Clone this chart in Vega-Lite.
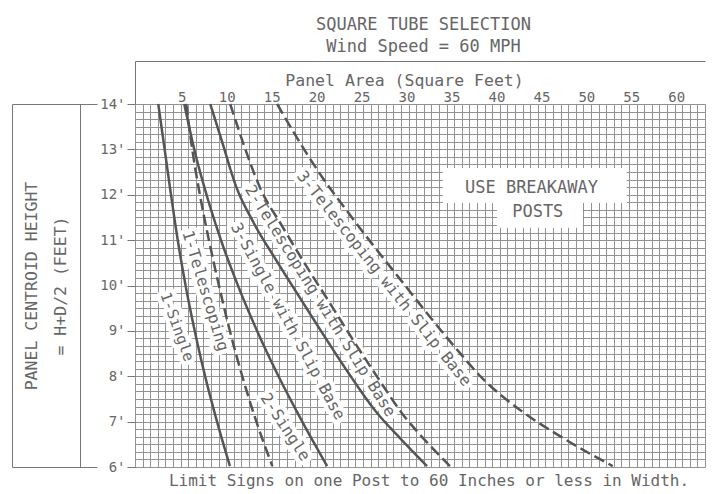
{
  "$schema": "https://vega.github.io/schema/vega-lite/v6.json",
  "width": 570,
  "height": 363,
  "autosize": {"type": "none"},
  "padding": {"left": 135, "top": 104, "right": 20, "bottom": 27},
  "background": "white",
  "config": {
    "view": {"stroke": null},
    "axis": {"labelFont": "DejaVu Sans Mono", "titleFont": "DejaVu Sans Mono", "labelColor": "#666", "titleColor": "#666", "titleFontWeight": "normal", "gridColor": "#929292", "gridOpacity": 1, "gridWidth": 1, "domainColor": "#777", "tickColor": "#777"},
    "text": {"font": "DejaVu Sans Mono"}
  },
  "datasets": {
    "curves": [
      {"series": "1-Single", "line": "solid", "x": 2.39, "y": 14},
      {"series": "1-Single", "line": "solid", "x": 3.09, "y": 13.01},
      {"series": "1-Single", "line": "solid", "x": 3.79, "y": 12.02},
      {"series": "1-Single", "line": "solid", "x": 4.54, "y": 11.02},
      {"series": "1-Single", "line": "solid", "x": 5.4, "y": 10.03},
      {"series": "1-Single", "line": "solid", "x": 6.4, "y": 9.04},
      {"series": "1-Single", "line": "solid", "x": 7.54, "y": 8.05},
      {"series": "1-Single", "line": "solid", "x": 8.84, "y": 7.06},
      {"series": "1-Single", "line": "solid", "x": 10.36, "y": 6.02},
      {"series": "1-Telescoping", "line": "dashed", "x": 5.5, "y": 14},
      {"series": "1-Telescoping", "line": "dashed", "x": 6.16, "y": 13.01},
      {"series": "1-Telescoping", "line": "dashed", "x": 7.0, "y": 12.02},
      {"series": "1-Telescoping", "line": "dashed", "x": 8.0, "y": 11.02},
      {"series": "1-Telescoping", "line": "dashed", "x": 9.1, "y": 10.03},
      {"series": "1-Telescoping", "line": "dashed", "x": 10.3, "y": 9.04},
      {"series": "1-Telescoping", "line": "dashed", "x": 11.66, "y": 8.05},
      {"series": "1-Telescoping", "line": "dashed", "x": 13.2, "y": 7.06},
      {"series": "1-Telescoping", "line": "dashed", "x": 15.08, "y": 6.02},
      {"series": "2-Single", "line": "solid", "x": 5.28, "y": 14},
      {"series": "2-Single", "line": "solid", "x": 6.38, "y": 13.01},
      {"series": "2-Single", "line": "solid", "x": 7.73, "y": 12.02},
      {"series": "2-Single", "line": "solid", "x": 9.33, "y": 11.02},
      {"series": "2-Single", "line": "solid", "x": 11.19, "y": 10.03},
      {"series": "2-Single", "line": "solid", "x": 13.29, "y": 9.04},
      {"series": "2-Single", "line": "solid", "x": 15.64, "y": 8.05},
      {"series": "2-Single", "line": "solid", "x": 18.24, "y": 7.06},
      {"series": "2-Single", "line": "solid", "x": 21.17, "y": 6.02},
      {"series": "3-Single with Slip Base", "line": "solid", "x": 8.17, "y": 14},
      {"series": "3-Single with Slip Base", "line": "solid", "x": 9.5, "y": 13.16},
      {"series": "3-Single with Slip Base", "line": "solid", "x": 11.0, "y": 12.21},
      {"series": "3-Single with Slip Base", "line": "solid", "x": 12.95, "y": 11.4},
      {"series": "3-Single with Slip Base", "line": "solid", "x": 15.5, "y": 10.56},
      {"series": "3-Single with Slip Base", "line": "solid", "x": 18.17, "y": 9.72},
      {"series": "3-Single with Slip Base", "line": "solid", "x": 20.84, "y": 8.89},
      {"series": "3-Single with Slip Base", "line": "solid", "x": 23.62, "y": 8.05},
      {"series": "3-Single with Slip Base", "line": "solid", "x": 26.45, "y": 7.26},
      {"series": "3-Single with Slip Base", "line": "solid", "x": 29.45, "y": 6.6},
      {"series": "3-Single with Slip Base", "line": "solid", "x": 32.28, "y": 6.02},
      {"series": "2-Telescoping with Slip Base", "line": "dashed", "x": 10.39, "y": 14},
      {"series": "2-Telescoping with Slip Base", "line": "dashed", "x": 11.9, "y": 13.1},
      {"series": "2-Telescoping with Slip Base", "line": "dashed", "x": 13.72, "y": 12.15},
      {"series": "2-Telescoping with Slip Base", "line": "dashed", "x": 16.16, "y": 11.31},
      {"series": "2-Telescoping with Slip Base", "line": "dashed", "x": 18.72, "y": 10.47},
      {"series": "2-Telescoping with Slip Base", "line": "dashed", "x": 21.39, "y": 9.64},
      {"series": "2-Telescoping with Slip Base", "line": "dashed", "x": 24.05, "y": 8.8},
      {"series": "2-Telescoping with Slip Base", "line": "dashed", "x": 26.83, "y": 7.96},
      {"series": "2-Telescoping with Slip Base", "line": "dashed", "x": 29.55, "y": 7.17},
      {"series": "2-Telescoping with Slip Base", "line": "dashed", "x": 32.25, "y": 6.55},
      {"series": "2-Telescoping with Slip Base", "line": "dashed", "x": 34.83, "y": 6.02},
      {"series": "3-Telescoping with Slip Base", "line": "dashed", "x": 15.61, "y": 14},
      {"series": "3-Telescoping with Slip Base", "line": "dashed", "x": 18.17, "y": 13.14},
      {"series": "3-Telescoping with Slip Base", "line": "dashed", "x": 20.61, "y": 12.39},
      {"series": "3-Telescoping with Slip Base", "line": "dashed", "x": 23.39, "y": 11.64},
      {"series": "3-Telescoping with Slip Base", "line": "dashed", "x": 26.28, "y": 10.89},
      {"series": "3-Telescoping with Slip Base", "line": "dashed", "x": 29.28, "y": 10.14},
      {"series": "3-Telescoping with Slip Base", "line": "dashed", "x": 32.28, "y": 9.39},
      {"series": "3-Telescoping with Slip Base", "line": "dashed", "x": 35.39, "y": 8.64},
      {"series": "3-Telescoping with Slip Base", "line": "dashed", "x": 38.61, "y": 7.92},
      {"series": "3-Telescoping with Slip Base", "line": "dashed", "x": 42.61, "y": 7.26},
      {"series": "3-Telescoping with Slip Base", "line": "dashed", "x": 47.39, "y": 6.64},
      {"series": "3-Telescoping with Slip Base", "line": "dashed", "x": 52.94, "y": 6.02}
    ],
    "labels": [
      {"label": "1-Single", "x": 4.5, "y": 9.09},
      {"label": "1-Telescoping", "x": 7.61, "y": 9.88},
      {"label": "2-Single", "x": 16.5, "y": 6.88},
      {"label": "3-Single with Slip Base", "x": 16.8, "y": 9.21},
      {"label": "2-Telescoping with Slip Base", "x": 20.39, "y": 9.66},
      {"label": "3-Telescoping with Slip Base", "x": 27.5, "y": 10.15}
    ],
    "notes": [
      {"label": "USE BREAKAWAY", "x": 43.9, "y": 12.15},
      {"label": "POSTS", "x": 44.6, "y": 11.62}
    ],
    "boxes": [
      {"x": 34.06, "x2": 54.5, "y": 12.59, "y2": 11.82},
      {"x": 40.06, "x2": 49.6, "y": 11.84, "y2": 11.27}
    ]
  },
  "resolve": {"axis": {"x": "independent", "y": "independent"}},
  "layer": [
    {
      "data": {"name": "curves"},
      "mark": {"type": "point", "opacity": 0},
      "encoding": {
        "x": {"field": "x", "type": "quantitative", "scale": {"domain": [-0.2, 63.2], "nice": false, "zero": false},
          "axis": {"orient": "bottom", "grid": true, "labels": false, "ticks": false, "domain": false,
            "values": [-0.2, 0.645, 1.491, 2.336, 3.181, 4.027, 4.872, 5.717, 6.562, 7.408, 8.253, 9.099, 9.944, 10.789, 11.634, 12.48, 13.325, 14.171, 15.016, 15.861, 16.706, 17.552, 18.397, 19.242, 20.088, 20.933, 21.778, 22.624, 23.469, 24.314, 25.16, 26.005, 26.85, 27.696, 28.541, 29.386, 30.232, 31.077, 31.922, 32.768, 33.613, 34.458, 35.304, 36.149, 36.994, 37.84, 38.685, 39.53, 40.376, 41.221, 42.066, 42.912, 43.757, 44.602, 45.448, 46.293, 47.138, 47.984, 48.829, 49.674, 50.52, 51.365, 52.21, 53.056, 53.901, 54.746, 55.592, 56.437, 57.282, 58.128, 58.973, 59.818, 60.664, 61.509, 62.354, 63.2],
            "title": "Limit Signs on one Post to 60 Inches or less in Width.", "titleFontSize": 16, "titleX": 293.5, "titleY": 13, "titleBaseline": "middle", "titleAlign": "center"}},
        "y": {"field": "y", "type": "quantitative", "scale": {"domain": [6, 14], "nice": false, "zero": false},
          "axis": {"orient": "left", "grid": true, "labels": false, "ticks": false, "domain": false, "title": null,
            "values": [6, 6.1667, 6.3333, 6.5, 6.6667, 6.8333, 7, 7.1667, 7.3333, 7.5, 7.6667, 7.8333, 8, 8.1667, 8.3333, 8.5, 8.6667, 8.8333, 9, 9.1667, 9.3333, 9.5, 9.6667, 9.8333, 10, 10.1667, 10.3333, 10.5, 10.6667, 10.8333, 11, 11.1667, 11.3333, 11.5, 11.6667, 11.8333, 12, 12.1667, 12.3333, 12.5, 12.6667, 12.8333, 13, 13.1667, 13.3333, 13.5, 13.6667, 13.8333, 14]}}
      }
    },
    {
      "data": {"name": "boxes"},
      "mark": {"type": "rect", "fill": "white"},
      "encoding": {
        "x": {"field": "x", "type": "quantitative", "axis": null},
        "x2": {"field": "x2"},
        "y": {"field": "y", "type": "quantitative", "axis": null},
        "y2": {"field": "y2"}
      }
    },
    {
      "data": {"name": "labels"},
      "transform": [{"filter": "datum.label == '1-Single'"}],
      "mark": {"type": "text", "angle": 70, "fontSize": 15, "align": "center", "baseline": "middle", "fill": "white", "stroke": "white", "strokeWidth": 9, "strokeJoin": "round"},
      "encoding": {"x": {"field": "x", "type": "quantitative", "axis": null}, "y": {"field": "y", "type": "quantitative", "axis": null}, "text": {"field": "label"}}
    },
    {
      "data": {"name": "labels"},
      "transform": [{"filter": "datum.label == '1-Telescoping'"}],
      "mark": {"type": "text", "angle": 73, "fontSize": 16, "align": "center", "baseline": "middle", "fill": "white", "stroke": "white", "strokeWidth": 9, "strokeJoin": "round"},
      "encoding": {"x": {"field": "x", "type": "quantitative", "axis": null}, "y": {"field": "y", "type": "quantitative", "axis": null}, "text": {"field": "label"}}
    },
    {
      "data": {"name": "labels"},
      "transform": [{"filter": "datum.label == '2-Single'"}],
      "mark": {"type": "text", "angle": 57, "fontSize": 16, "align": "center", "baseline": "middle", "fill": "white", "stroke": "white", "strokeWidth": 9, "strokeJoin": "round"},
      "encoding": {"x": {"field": "x", "type": "quantitative", "axis": null}, "y": {"field": "y", "type": "quantitative", "axis": null}, "text": {"field": "label"}}
    },
    {
      "data": {"name": "labels"},
      "transform": [{"filter": "datum.label == '3-Single with Slip Base'"}],
      "mark": {"type": "text", "angle": 61.5, "fontSize": 16, "align": "center", "baseline": "middle", "fill": "white", "stroke": "white", "strokeWidth": 9, "strokeJoin": "round"},
      "encoding": {"x": {"field": "x", "type": "quantitative", "axis": null}, "y": {"field": "y", "type": "quantitative", "axis": null}, "text": {"field": "label"}}
    },
    {
      "data": {"name": "labels"},
      "transform": [{"filter": "datum.label == '2-Telescoping with Slip Base'"}],
      "mark": {"type": "text", "angle": 58, "fontSize": 16, "align": "center", "baseline": "middle", "fill": "white", "stroke": "white", "strokeWidth": 9, "strokeJoin": "round"},
      "encoding": {"x": {"field": "x", "type": "quantitative", "axis": null}, "y": {"field": "y", "type": "quantitative", "axis": null}, "text": {"field": "label"}}
    },
    {
      "data": {"name": "labels"},
      "transform": [{"filter": "datum.label == '3-Telescoping with Slip Base'"}],
      "mark": {"type": "text", "angle": 51.5, "fontSize": 16, "align": "center", "baseline": "middle", "fill": "white", "stroke": "white", "strokeWidth": 9, "strokeJoin": "round"},
      "encoding": {"x": {"field": "x", "type": "quantitative", "axis": null}, "y": {"field": "y", "type": "quantitative", "axis": null}, "text": {"field": "label"}}
    },
    {
      "data": {"name": "curves"},
      "mark": {"type": "line", "interpolate": "monotone", "stroke": "#555", "strokeWidth": 2.5},
      "encoding": {
        "x": {"field": "x", "type": "quantitative", "scale": {"domain": [-0.2, 63.2], "nice": false, "zero": false},
          "axis": {"orient": "top", "values": [5, 10, 15, 20, 25, 30, 35, 40, 45, 50, 55, 60], "grid": false, "ticks": false, "tickSize": 0, "domain": false, "labelPadding": 0, "labelFontSize": 14, "labelFlush": false, "labelOverlap": false,
            "title": "Panel Area (Square Feet)", "titleFontSize": 16.5, "titleX": 269, "titleY": -24, "titleBaseline": "middle", "titleAlign": "center"}},
        "y": {"field": "y", "type": "quantitative", "scale": {"domain": [6, 14], "nice": false, "zero": false},
          "axis": {"orient": "left", "values": [6, 7, 8, 9, 10, 11, 12, 13, 14], "labelExpr": "datum.value + \"'\"", "grid": false, "domain": false, "tickSize": 8, "labelPadding": 2, "labelFontSize": 14, "labelBaseline": "middle",
            "title": ["PANEL CENTROID HEIGHT", "= H+D/2 (FEET)"], "titleX": -104, "titleY": 181.5, "titleAngle": -90, "titleBaseline": "middle", "titleAlign": "center", "titleLineHeight": 29, "titleFontSize": 16.5}},
        "detail": {"field": "series", "type": "nominal"},
        "strokeDash": {"field": "line", "type": "nominal", "scale": {"domain": ["solid", "dashed"], "range": [[1, 0], [11, 5]]}, "legend": null}
      }
    },
    {
      "data": {"name": "labels"},
      "transform": [{"filter": "datum.label == '1-Single'"}],
      "mark": {"type": "text", "angle": 70, "fontSize": 15, "align": "center", "baseline": "middle", "fill": "#666"},
      "encoding": {"x": {"field": "x", "type": "quantitative", "axis": null}, "y": {"field": "y", "type": "quantitative", "axis": null}, "text": {"field": "label"}}
    },
    {
      "data": {"name": "labels"},
      "transform": [{"filter": "datum.label == '1-Telescoping'"}],
      "mark": {"type": "text", "angle": 73, "fontSize": 16, "align": "center", "baseline": "middle", "fill": "#666"},
      "encoding": {"x": {"field": "x", "type": "quantitative", "axis": null}, "y": {"field": "y", "type": "quantitative", "axis": null}, "text": {"field": "label"}}
    },
    {
      "data": {"name": "labels"},
      "transform": [{"filter": "datum.label == '2-Single'"}],
      "mark": {"type": "text", "angle": 57, "fontSize": 16, "align": "center", "baseline": "middle", "fill": "#666"},
      "encoding": {"x": {"field": "x", "type": "quantitative", "axis": null}, "y": {"field": "y", "type": "quantitative", "axis": null}, "text": {"field": "label"}}
    },
    {
      "data": {"name": "labels"},
      "transform": [{"filter": "datum.label == '3-Single with Slip Base'"}],
      "mark": {"type": "text", "angle": 61.5, "fontSize": 16, "align": "center", "baseline": "middle", "fill": "#666"},
      "encoding": {"x": {"field": "x", "type": "quantitative", "axis": null}, "y": {"field": "y", "type": "quantitative", "axis": null}, "text": {"field": "label"}}
    },
    {
      "data": {"name": "labels"},
      "transform": [{"filter": "datum.label == '2-Telescoping with Slip Base'"}],
      "mark": {"type": "text", "angle": 58, "fontSize": 16, "align": "center", "baseline": "middle", "fill": "#666"},
      "encoding": {"x": {"field": "x", "type": "quantitative", "axis": null}, "y": {"field": "y", "type": "quantitative", "axis": null}, "text": {"field": "label"}}
    },
    {
      "data": {"name": "labels"},
      "transform": [{"filter": "datum.label == '3-Telescoping with Slip Base'"}],
      "mark": {"type": "text", "angle": 51.5, "fontSize": 16, "align": "center", "baseline": "middle", "fill": "#666"},
      "encoding": {"x": {"field": "x", "type": "quantitative", "axis": null}, "y": {"field": "y", "type": "quantitative", "axis": null}, "text": {"field": "label"}}
    },
    {
      "data": {"name": "notes"},
      "mark": {"type": "text", "fontSize": 17, "align": "center", "baseline": "middle", "fill": "#666"},
      "encoding": {"x": {"field": "x", "type": "quantitative", "axis": null}, "y": {"field": "y", "type": "quantitative", "axis": null}, "text": {"field": "label"}}
    },
    {
      "data": {"name": "curves"},
      "mark": {"type": "point", "opacity": 0},
      "encoding": {
        "x": {"field": "x", "type": "quantitative", "axis": {"orient": "top", "offset": 43, "domain": true, "ticks": false, "labels": false, "grid": false, "title": null}},
        "y": {"field": "y", "type": "quantitative", "axis": {"orient": "left", "offset": 55, "domain": true, "ticks": false, "labels": false, "grid": false, "title": null}}
      }
    },
    {
      "data": {"name": "curves"},
      "mark": {"type": "point", "opacity": 0},
      "encoding": {
        "x": {"field": "x", "type": "quantitative", "axis": {"orient": "top", "offset": 0, "values": [-0.2], "ticks": true, "tickSize": 43, "domain": false, "labels": false, "grid": false,
          "title": ["SQUARE TUBE SELECTION", "Wind Speed = 60 MPH"], "titleFontSize": 17, "titleLineHeight": 22, "titleX": 288, "titleY": -80, "titleBaseline": "middle", "titleAlign": "center"}},
        "y": {"field": "y", "type": "quantitative", "axis": {"orient": "left", "offset": 123, "domain": true, "ticks": false, "labels": false, "grid": false, "title": null}}
      }
    },
    {
      "data": {"name": "curves"},
      "mark": {"type": "point", "opacity": 0},
      "encoding": {
        "x": {"field": "x", "type": "quantitative", "axis": null},
        "y": {"field": "y", "type": "quantitative", "axis": {"orient": "left", "offset": 38, "values": [6, 14], "ticks": true, "tickSize": 85, "domain": false, "labels": false, "grid": false, "title": null}}
      }
    }
  ]
}
